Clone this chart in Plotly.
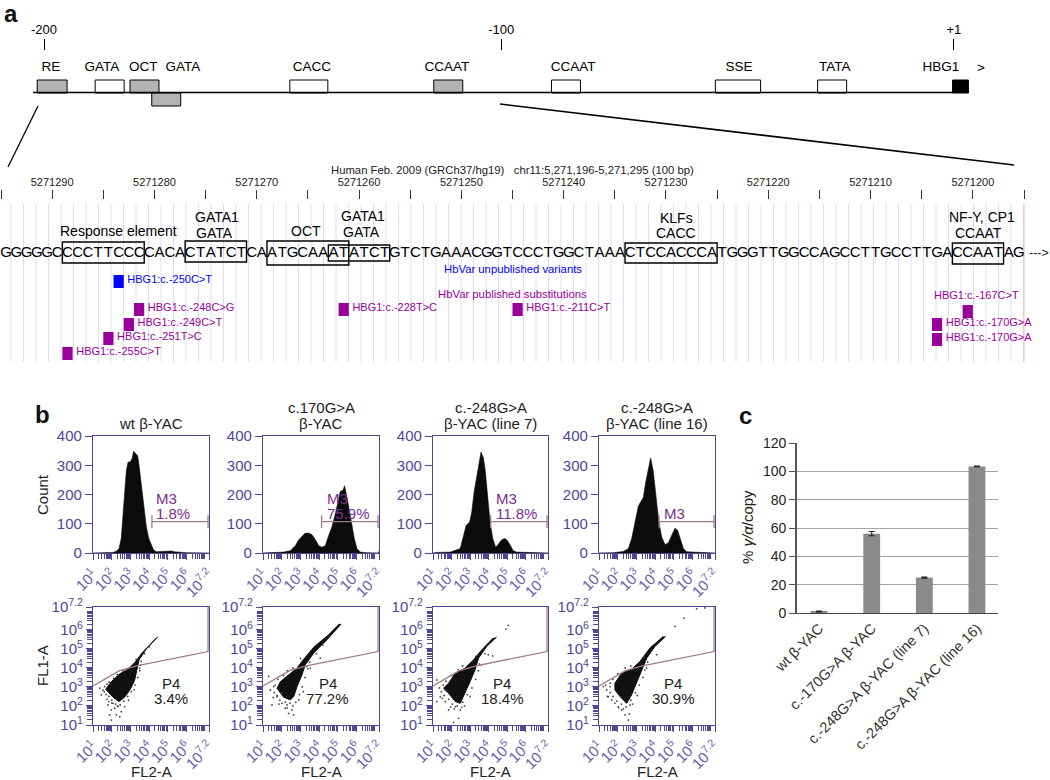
import numpy as np
import plotly.graph_objects as go

W, H = 1050, 780
FONT = "Liberation Sans"
NAVY = "#4f4696"
GATE = "#a27a82"
MAUVE = "#7b2f8f"
PURPLE = "#990099"

# panel a, promoter schematic (positions in bp from the start site)
elem_names = ["RE", "GATA", "OCT", "GATA", "CACC", "CCAAT", "CCAAT", "SSE", "TATA", "HBG1"]
elem_start = [-201.5, -188.7, -181.0, -176.2, -145.7, -113.9, -87.9, -51.7, -29.1, 0.7]
elem_end = [-194.9, -182.3, -174.6, -169.8, -137.3, -107.5, -81.5, -41.7, -22.7, 4.2]
elem_fill = ["#b3b3b3", "white", "#b3b3b3", "#b3b3b3", "white", "#b3b3b3", "white", "white", "white", "black"]
elem_row = [86.5, 86.5, 86.5, 99.5, 86.5, 86.5, 86.5, 86.5, 86.5, 86.5]
elem_label_bp = [-198.5, -187.2, -178.1, -169.3, -140.8, -111.0, -83.1, -46.5, -25.3, -1.9]

# panel a, genome browser
bases = "GGGGGCCCCTTCCCCACACTATCTCAATGCAAATATCTGTCTGAAACGGTCCCTGGCTAAACTCCACCCATGGGTTGGCCAGCCTTGCCTTGACCAATAG"
first_pos = 5271295
axis_ticks = [5271295 - 5 * i for i in range(21)]
axis_labels = [str(p) if p % 10 == 0 else "" for p in axis_ticks]
site_start = [5271289, 5271277, 5271269, 5271263, 5271234, 5271202]
site_end = [5271281, 5271271, 5271261, 5271257, 5271225, 5271197]
site_top = [242, 241, 241, 245, 243, 243]
site_bottom = [263, 262, 265, 261, 263, 264]

var_names = ["HBG1:c.-250C>T", "HBG1:c.-248C>G", "HBG1:c.-249C>T", "HBG1:c.-251T>C", "HBG1:c.-255C>T",
             "HBG1:c.-228T>C", "HBG1:c.-211C>T", "HBG1:c.-167C>T", "HBG1:c.-170G>A", "HBG1:c.-170G>A"]
var_pos = [5271284, 5271282, 5271283, 5271285, 5271289, 5271262, 5271245, 5271201, 5271204, 5271204]
var_row = [275, 303, 318, 332, 347, 303, 303, 305, 318, 333]
var_color = ["#0000ff"] + [PURPLE] * 9

# panel b, histograms: log10 fluorescence and cell count
hist_lg = [
    [1.0, 2.07, 2.25, 2.39, 2.51, 2.60, 2.69, 2.78, 2.87, 3.00, 3.10, 3.17, 3.28, 3.39, 3.46, 3.58, 3.71, 3.85,
     3.98, 4.12, 4.24, 4.39, 4.56, 4.83, 5.01, 5.19, 5.36, 5.63, 5.99, 7.2],
    [1.0, 1.39, 2.10, 2.46, 2.73, 2.91, 3.08, 3.26, 3.44, 3.62, 3.80, 3.98, 4.15, 4.33, 4.51, 4.69, 4.87, 4.99,
     5.13, 5.28, 5.36, 5.49, 5.63, 5.76, 5.88, 6.02, 6.20, 6.56, 7.15, 7.2],
    [1.0, 1.21, 1.93, 2.20, 2.47, 2.61, 2.79, 2.97, 3.09, 3.22, 3.36, 3.48, 3.59, 3.72, 3.82, 3.93, 4.07, 4.22,
     4.38, 4.52, 4.70, 4.88, 5.02, 5.18, 5.32, 5.50, 6.13, 7.2],
    [1.0, 1.77, 2.30, 2.57, 2.75, 2.92, 3.10, 3.23, 3.37, 3.49, 3.64, 3.76, 3.90, 4.05, 4.19, 4.35, 4.53, 4.71,
     4.88, 5.06, 5.20, 5.33, 5.51, 5.69, 6.22, 7.2],
]
hist_count = [
    [0, 2, 6, 15, 50, 120, 200, 280, 310, 312, 325, 348, 340, 332, 300, 240, 170, 90, 50, 25, 10, 4, 5, 6, 6, 7, 4,
     2, 1, 0],
    [0, 1, 3, 8, 25, 45, 58, 68, 68, 62, 45, 25, 20, 25, 60, 90, 135, 170, 210, 215, 230, 190, 140, 90, 50, 15, 3, 1,
     0, 6],
    [0, 2, 3, 8, 15, 50, 95, 105, 140, 210, 270, 305, 345, 325, 280, 200, 110, 50, 20, 30, 45, 50, 42, 25, 8, 3, 2, 0],
    [0, 1, 5, 15, 50, 100, 160, 175, 190, 240, 290, 325, 280, 190, 110, 55, 28, 35, 60, 85, 78, 50, 15, 4, 2, 0],
]
hist_titles = ["wt β-YAC", "c.170G>A<br>β-YAC", "c.-248G>A<br>β-YAC (line 7)", "c.-248G>A<br>β-YAC (line 16)"]
m3_start = [4.15, 4.13, 4.11, 4.21]
m3_level = 107
m3_text = ["1.8%", "75.9%", "11.8%", ""]
m3_label_lg = [4.24, 4.30, 4.29, 4.35]

# panel b, dot plots: outline of the dense population, then the scattered dots
core_x = [
    [4.47, 3.85, 3.46, 3.35, 3.23, 3.00, 2.69, 2.39, 2.07, 1.68, 1.98, 2.43, 2.87, 3.23, 3.64, 4.12, 4.39],
    [5.17, 4.42, 3.71, 3.26, 3.08, 2.82, 2.64, 2.46, 2.10, 1.75, 1.93, 2.46, 2.82, 3.08, 3.71, 4.51, 5.09],
    [4.43, 3.90, 3.45, 3.27, 3.00, 2.73, 2.47, 2.20, 1.84, 1.57, 1.84, 2.20, 2.73, 3.18, 3.63, 4.25],
    [4.56, 3.99, 3.55, 3.28, 3.01, 2.74, 2.48, 2.21, 1.85, 1.85, 2.21, 2.74, 3.19, 3.72, 4.43],
]
core_y = [
    [5.64, 4.99, 4.42, 3.90, 3.37, 2.88, 2.46, 2.23, 2.46, 2.88, 3.28, 3.69, 3.93, 4.28, 4.81, 5.30, 5.57],
    [6.30, 5.48, 4.78, 4.16, 3.63, 3.02, 2.49, 2.32, 2.46, 2.93, 3.28, 3.72, 3.99, 4.34, 5.09, 5.74, 6.32],
    [5.62, 5.13, 4.51, 3.90, 3.28, 2.67, 2.14, 2.23, 2.67, 2.93, 3.20, 3.72, 3.99, 4.42, 4.95, 5.57],
    [5.65, 5.13, 4.51, 3.90, 3.28, 2.58, 2.14, 2.40, 2.84, 3.20, 3.72, 3.93, 4.34, 5.04, 5.65],
]
dots_x = [
    [1.36, 1.53, 1.45, 1.80, 1.98, 2.16, 2.34, 1.89, 1.98, 2.43, 2.69, 2.51, 2.25, 3.58, 3.49, 1.62, 1.85, 2.07,
     1.75, 1.85, 2.10, 2.30, 2.60, 1.60, 1.70, 1.85, 2.00, 2.20, 2.45, 2.65, 2.85, 3.05, 3.25, 3.40, 3.50, 3.55,
     3.30, 3.75, 4.00, 2.30, 2.00, 1.75, 2.90, 3.20],
    [1.30, 1.57, 1.39, 1.75, 1.48, 2.01, 2.28, 2.55, 2.64, 2.37, 2.19, 4.06, 3.53, 3.35, 2.91, 2.01,
     1.65, 1.80, 2.10, 2.30, 2.60, 1.60, 1.75, 1.90, 2.20, 2.45, 2.75, 2.95, 3.10, 3.25, 3.40, 3.50, 3.85, 4.20,
     3.00, 2.60, 3.15, 1.85, 1.55, 2.30],
    [1.21, 1.39, 1.21, 1.66, 1.84, 2.20, 2.47, 2.55, 2.38, 2.11, 4.93, 5.06, 3.98, 4.22, 3.63, 1.66,
     1.55, 1.70, 2.00, 2.35, 2.60, 1.45, 1.60, 1.85, 2.05, 2.30, 2.60, 2.85, 3.10, 3.30, 3.45, 3.50, 3.30, 3.80,
     2.70, 1.50, 1.95, 2.15, 3.00, 1.35],
    [1.23, 1.41, 1.50, 1.68, 2.03, 2.21, 2.39, 2.57, 2.62, 1.59, 5.06, 5.54, 6.22, 6.66, 3.55, 4.08, 1.85, 2.66,
     1.60, 1.75, 2.00, 2.40, 2.70, 1.60, 1.75, 1.95, 2.20, 2.45, 2.70, 2.95, 3.15, 3.35, 3.45, 3.60, 3.40, 3.85,
     2.80, 1.45, 2.05, 2.30, 3.05, 1.35],
]
dots_y = [
    [2.93, 2.84, 2.58, 2.05, 1.79, 1.88, 1.97, 1.53, 1.26, 1.44, 1.97, 1.70, 1.53, 4.34, 3.99, 3.02, 2.23, 2.14,
     3.15, 3.25, 3.45, 3.65, 3.85, 2.75, 2.60, 2.50, 2.30, 2.10, 2.05, 2.25, 2.50, 2.75, 3.10, 3.50, 3.85, 4.15,
     4.45, 4.75, 5.10, 2.00, 2.15, 2.35, 2.30, 2.85],
    [3.55, 3.02, 2.84, 2.49, 2.05, 2.14, 2.05, 1.79, 1.53, 1.61, 1.88, 4.51, 3.99, 4.07, 2.32, 2.67,
     3.10, 3.40, 3.60, 3.85, 4.00, 2.70, 2.55, 2.30, 2.20, 2.15, 2.20, 2.60, 3.00, 3.50, 3.95, 4.30, 4.75, 5.20,
     4.50, 2.00, 2.75, 2.10, 2.45, 1.90],
    [3.37, 2.49, 2.23, 2.23, 1.79, 1.97, 1.79, 1.93, 1.35, 1.14, 6.04, 6.23, 4.69, 4.63, 4.16, 2.84,
     3.10, 3.30, 3.60, 3.90, 4.10, 2.75, 2.55, 2.35, 2.10, 2.00, 2.20, 2.60, 2.95, 3.40, 3.85, 4.20, 4.60, 4.75,
     2.00, 2.40, 1.95, 1.85, 2.50, 2.95],
    [3.02, 2.84, 2.49, 2.32, 1.97, 1.79, 1.53, 1.26, 1.58, 3.02, 6.18, 6.62, 7.11, 7.15, 3.99, 4.69, 2.14, 2.05,
     3.20, 3.40, 3.70, 4.00, 4.10, 2.70, 2.50, 2.25, 2.10, 1.95, 2.30, 2.70, 3.10, 3.50, 3.90, 4.30, 4.60, 4.95,
     2.10, 2.50, 1.90, 1.85, 2.55, 3.10],
]
gate_lg_x = [1.0, 2.42, 3.32, 7.15, 7.15]
gate_lg_y = [3.05, 3.86, 4.11, 4.86, 7.2]
p4_text = ["3.4%", "77.2%", "18.4%", "30.9%"]
p4_lg_x = [5.15, 4.47, 4.73, 4.97]

# panel c
expr_names = ["wt β-YAC", "c.-170G>A β-YAC", "c.-248G>A β-YAC (line 7)", "c.-248G>A β-YAC (line 16)"]
expr_values = [1.0, 56.0, 25.0, 103.5]
expr_errors = [0.3, 1.5, 0.4, 0.3]

panel_left = [93, 263, 433, 599]
panel_right = [209, 379, 548, 715]

log_vals = [10.0 ** n for n in range(1, 7)] + [10.0 ** 7.2]
log_text = ["10<sup>%d</sup>" % n for n in range(1, 7)] + ["10<sup>7.2</sup>"]
log_minor = [m * 10.0 ** n for n in range(1, 7) for m in range(2, 10) if m * 10.0 ** n < 10.0 ** 7.2]


def dx(l, r):
    return [l / W, r / W]


def dy(t, b):
    return [1 - b / H, 1 - t / H]


fig = go.Figure()
layout = {}
annots = []


def note(text, x, y, size=13, color="black", anchor="center", angle=0, bold=False):
    annots.append(dict(text="<b>%s</b>" % text if bold else text, x=x / W, y=1 - y / H, xref="paper", yref="paper",
                       xanchor=anchor, yanchor="middle", showarrow=False, textangle=angle,
                       font=dict(family=FONT, size=size, color=color)))


# schematic
sx = lambda px: -200 + (px - 44) / 4.527
layout["xaxis"] = dict(domain=[0, 1], range=[sx(0), sx(W)], side="top", showgrid=False, zeroline=False, showline=False,
                       tickmode="array", tickvals=[-200, -99, 1], ticktext=["-200", "-100", "+1"], ticks="outside",
                       ticklen=11, tickcolor="black", tickwidth=1, anchor="y", tickfont=dict(family=FONT, size=13, color="black"))
layout["yaxis"] = dict(domain=dy(51, 110), range=[110, 51], visible=False, anchor="x")
fig.add_trace(go.Bar(y=elem_row, x=[e - s for s, e in zip(elem_start, elem_end)], base=elem_start, orientation="h", width=13,
                     marker=dict(color=elem_fill, line=dict(color="black", width=1)), xaxis="x", yaxis="y"))
fig.add_trace(go.Scatter(x=[sx(33), elem_start[-1]], y=[92.5, 92.5], mode="lines", line=dict(color="black", width=1.6),
                         xaxis="x", yaxis="y"))
fig.add_trace(go.Scatter(x=elem_label_bp, y=[67.5] * len(elem_names), text=elem_names, mode="text", textposition="middle center",
                         textfont=dict(family=FONT, size=13.5, color="black"), xaxis="x", yaxis="y", cliponaxis=False))
note("&gt;", 981, 67, 13.5)

# zoom lines between the schematic and the browser track
shapes = []
for x0, y0, x1, y1, w in [(38, 106, 8, 167, 1.3), (500, 104, 1014, 165, 1.6)]:
    shapes.append(dict(type="line", xref="paper", yref="paper", x0=x0 / W, y0=1 - y0 / H, x1=x1 / W, y1=1 - y1 / H,
                       line=dict(color="black", width=w)))

# browser track
BP = 10.23
pos_at = lambda px: first_pos - (px - 1) / BP
layout["xaxis2"] = dict(domain=[0, 1], range=[pos_at(0), pos_at(W)], side="top", showgrid=False, zeroline=False, showline=False,
                        tickmode="array", tickvals=axis_ticks, ticktext=axis_labels, ticks="outside", ticklen=9, tickwidth=1,
                        tickcolor="#333333", anchor="y2", tickfont=dict(family=FONT, size=11, color="#222222"))
layout["yaxis2"] = dict(domain=dy(200, 365), range=[365, 200], visible=False, anchor="x2")
for g in pos_at(11 + 12.5 * np.arange(82)):
    shapes.append(dict(type="line", xref="x2", yref="y2", x0=g, x1=g, y0=204, y1=362, layer="below",
                       line=dict(color="#dcdcf8", width=1)))
shapes.append(dict(type="line", xref="x2", yref="y2", x0=axis_ticks[-1], x1=axis_ticks[-1], y0=204, y1=362, layer="below",
                   line=dict(color="#ffb4b4", width=1)))
for s, e, t, b in zip(site_start, site_end, site_top, site_bottom):
    shapes.append(dict(type="rect", xref="x2", yref="y2", x0=s, x1=e, y0=t, y1=b, line=dict(color="black", width=1.4)))
fig.add_trace(go.Scatter(x=[first_pos - i - 0.5 for i in range(len(bases))], y=[253] * len(bases), text=list(bases), mode="text",
                         textposition="middle center", textfont=dict(family=FONT, size=15, color="black"),
                         xaxis="x2", yaxis="y2", cliponaxis=False))
fig.add_trace(go.Bar(x=[p - 0.5 for p in var_pos], y=[13] * len(var_pos), base=var_row, width=1, marker=dict(color=var_color, line_width=0),
                     xaxis="x2", yaxis="y2"))
keep = [i for i in range(len(var_pos)) if i != 7]
fig.add_trace(go.Scatter(x=[var_pos[i] - 1.35 for i in keep], y=[var_row[i] + 5 for i in keep], text=[var_names[i] for i in keep],
                         mode="text", textposition="middle right", textfont=dict(family=FONT, size=11, color=[var_color[i] for i in keep]),
                         xaxis="x2", yaxis="y2", cliponaxis=False))
note(var_names[7], 976, 295, 11, PURPLE)
note("Human Feb. 2009 (GRCh37/hg19)&nbsp;&nbsp;&nbsp;chr11:5,271,196-5,271,295 (100 bp)", 512.5, 170, 11.3, "#222222")
note("HbVar unpublished variants", 512.5, 269, 11.3, "#0000ff")
note("HbVar published substitutions", 512.5, 294, 11.3, PURPLE)
note("---&gt;", 1027, 253, 12.5, "#222222", "left")
for txt, x, y in [("Response element", 118, 231), ("GATA1", 217, 217), ("GATA", 214, 233), ("OCT", 306, 231), ("GATA1", 363, 216),
                  ("GATA", 361, 232), ("KLFs", 676, 218), ("CACC", 676, 233), ("NF-Y, CP1", 982, 217), ("CCAAT", 978, 233)]:
    note(txt, x, y, 14)

# panel b
for i in range(4):
    n = 3 + i
    xa, ya = "x%d" % n, "y%d" % n
    layout["xaxis%d" % n] = dict(domain=dx(panel_left[i], panel_right[i]), type="log", range=[1, 7.2], anchor=ya, showgrid=False,
                                 zeroline=False, showline=True, linecolor=NAVY, linewidth=1.2, mirror=True, tickmode="array",
                                 tickvals=log_vals, ticktext=log_text, tickangle=-45, ticks="outside", ticklen=6, tickcolor=NAVY,
                                 minor=dict(tickmode="array", tickvals=log_minor, ticks="outside", ticklen=5, tickcolor=NAVY),
                                 tickfont=dict(family=FONT, size=15, color="#6a61ab"))
    layout["yaxis%d" % n] = dict(domain=dy(436, 553), range=[0, 400], anchor=xa, showgrid=False, zeroline=False, showline=True,
                                 linecolor=NAVY, linewidth=1.2, mirror=True, tickmode="array", tickvals=[0, 100, 200, 300, 400],
                                 ticks="outside", ticklen=7, tickcolor=NAVY, tickfont=dict(family=FONT, size=15, color=NAVY))
    fig.add_trace(go.Scatter(x=10.0 ** np.array(hist_lg[i]), y=hist_count[i], mode="lines", fill="tozeroy", fillcolor="#0b0b0b",
                             line=dict(color="#0b0b0b", width=0.6), xaxis=xa, yaxis=ya))
    fig.add_trace(go.Scatter(x=[10 ** m3_start[i], 10 ** 7.15, None, 10 ** m3_start[i], 10 ** m3_start[i], None, 10 ** 7.15, 10 ** 7.15],
                             y=[m3_level, m3_level, None, 85, 129, None, 85, 129], mode="lines",
                             line=dict(color=GATE, width=1.3), xaxis=xa, yaxis=ya))
    for txt, level in [("M3", 136 if i == 3 else 188), (m3_text[i], 134)]:
        if txt:
            annots.append(dict(text=txt, x=m3_label_lg[i], y=level, xref=xa, yref=ya, xanchor="left", yanchor="middle", showarrow=False,
                               font=dict(family=FONT, size=15, color=MAUVE)))
    lines = hist_titles[i].split("<br>")
    mid = (panel_left[i] + panel_right[i]) / 2
    if len(lines) == 1:
        note(lines[0], mid, 424, 15, "#222222")
    else:
        note(lines[0], mid, 407, 15, "#222222")
        note(lines[1], mid, 424, 15, "#222222")

    n = 7 + i
    xa, ya = "x%d" % n, "y%d" % n
    layout["xaxis%d" % n] = dict(layout["xaxis%d" % (3 + i)], anchor=ya)
    layout["yaxis%d" % n] = dict(domain=dy(607, 725), type="log", range=[1, 7.2], anchor=xa, showgrid=False, zeroline=False, showline=True,
                                 linecolor=NAVY, linewidth=1.2, mirror=True, tickmode="array", tickvals=log_vals, ticktext=log_text,
                                 ticks="outside", ticklen=6, tickcolor=NAVY,
                                 minor=dict(tickmode="array", tickvals=log_minor, ticks="outside", ticklen=5, tickcolor=NAVY),
                                 tickfont=dict(family=FONT, size=15, color=NAVY))
    fig.add_trace(go.Scatter(x=10.0 ** np.array(core_x[i]), y=10.0 ** np.array(core_y[i]), mode="lines", fill="toself", fillcolor="#111111",
                             line=dict(color="#111111", width=1), xaxis=xa, yaxis=ya))
    fig.add_trace(go.Scatter(x=10.0 ** np.array(dots_x[i]), y=10.0 ** np.array(dots_y[i]), mode="markers",
                             marker=dict(color="#444444", size=1.8), xaxis=xa, yaxis=ya))
    fig.add_trace(go.Scatter(x=10.0 ** np.array(gate_lg_x), y=10.0 ** np.array(gate_lg_y), mode="lines",
                             line=dict(color=GATE, width=1.3), xaxis=xa, yaxis=ya))
    for txt, lg_y in [("P4", 3.16), (p4_text[i], 2.40)]:
        annots.append(dict(text=txt, x=p4_lg_x[i], y=lg_y, xref=xa, yref=ya, xanchor="center", yanchor="middle", showarrow=False,
                           font=dict(family=FONT, size=15, color="#222222")))
    note("FL2-A", mid, 771, 15, "#222222")

note("Count", 42, 495, 15, "#222222", angle=-90)
note("FL1-A", 42, 666, 15, "#222222", angle=-90)

# panel c
layout["xaxis11"] = dict(domain=dx(797, 998), range=[-0.42, 3.4], anchor="y11", showgrid=False, zeroline=False, showline=True, linecolor="#444444",
                         linewidth=1.4, tickmode="array", tickvals=[0, 1, 2, 3], ticktext=expr_names, tickangle=-45, ticks="",
                         tickfont=dict(family=FONT, size=14.5, color="#333333"))
layout["yaxis11"] = dict(domain=dy(443, 613), range=[0, 120], dtick=20, anchor="x11", showgrid=True, gridcolor="#a3a3a3", gridwidth=1.2,
                         zeroline=False, showline=True, linecolor="#555555", linewidth=1.6, ticks="outside", ticklen=6, tickcolor="#555555",
                         tickfont=dict(family=FONT, size=14, color="#222222"))
fig.add_trace(go.Bar(x=[0, 1, 2, 3], y=expr_values, width=0.32, marker=dict(color="#8a8a8a", line_width=0),
                     error_y=dict(type="data", array=expr_errors, color="#222222", thickness=1.1, width=3), xaxis="x11", yaxis="y11"))
note("% <i>γ/α</i>/copy", 747, 527, 15, "#222222", angle=-90)

note("a", 11, 13, 24, "#111111", bold=True)
note("b", 42, 414, 24, "#111111", bold=True)
note("c", 745, 415, 24, "#111111", bold=True)

fig.update_layout(width=W, height=H, margin=dict(l=0, r=0, t=0, b=0), showlegend=False, paper_bgcolor="white", plot_bgcolor="rgba(0,0,0,0)",
                  annotations=annots, shapes=shapes, **layout)
fig.update_xaxes(automargin=False)
fig.update_yaxes(automargin=False)
fig.write_html("out.html", config={"displayModeBar": False},
               post_script="document.body.style.margin='0';document.body.style.overflow='hidden';")
